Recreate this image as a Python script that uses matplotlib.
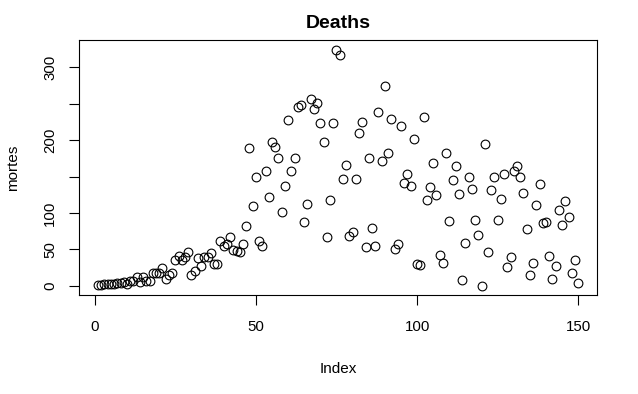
"""
Scatter of daily deaths against index, styled like R's base plot().
"""

import numpy as np
import matplotlib
matplotlib.use("Agg")
import matplotlib.pyplot as plt

# daily deaths (index 1..150)
mortes = [
    1, 1, 2, 2, 3, 3, 4, 4, 5, 3,
    6, 6, 12, 5, 12, 7, 7, 17, 18, 17,
    25, 9, 15, 18, 36, 41, 36, 40, 46, 15,
    20, 38, 27, 39, 39, 45, 30, 30, 61, 55,
    58, 67, 49, 48, 46, 58, 82, 189, 109, 150,
    61, 55, 158, 122, 197, 191, 176, 101, 137, 227,
    158, 175, 245, 248, 88, 112, 256, 243, 251, 223,
    198, 67, 118, 224, 324, 317, 146, 166, 68, 74,
    147, 210, 225, 53, 175, 80, 55, 239, 171, 274,
    183, 229, 50, 58, 220, 141, 154, 137, 202, 30,
    29, 232, 118, 135, 168, 124, 42, 31, 183, 89,
    145, 165, 126, 8, 59, 150, 133, 91, 70, 0,
    195, 47, 131, 150, 91, 119, 153, 26, 40, 157,
    165, 150, 128, 78, 15, 32, 111, 140, 86, 87,
    41, 10, 27, 104, 83, 116, 95, 18, 36, 4,
]
index = np.arange(1, len(mortes) + 1)

x_ticks = [0, 50, 100, 150]
y_ticks = [0, 50, 100, 150, 200, 250, 300]
y_ticklabels = ["0", "50", "100", "", "200", "", "300"]

plt.rcParams["font.family"] = ["Liberation Sans", "DejaVu Sans"]

fig = plt.figure(figsize=(6.38, 3.94), dpi=100)
ax = fig.add_axes([0.1234, 0.2505, 0.8131, 0.6472])

ax.plot(index, mortes, linestyle="none", marker="o", markersize=6.3,
        markerfacecolor="none", markeredgecolor="black", markeredgewidth=0.8)

# R pads the data range by 4% on each side
rx = index.max() - index.min()
ry = max(mortes) - min(mortes)
ax.set_xlim(index.min() - 0.04 * rx, index.max() + 0.04 * rx)
ax.set_ylim(min(mortes) - 0.04 * ry, max(mortes) + 0.04 * ry)

ax.set_xticks(x_ticks)
ax.set_yticks(y_ticks)
ax.set_yticklabels(y_ticklabels)
ax.tick_params(axis="both", direction="out", length=7.5, width=0.8,
               labelsize=10.8, color="black")
ax.tick_params(axis="x", pad=10.5)
ax.tick_params(axis="y", pad=8, labelrotation=90)
for lab in ax.get_yticklabels():
    lab.set_verticalalignment("center")

for sp in ax.spines.values():
    sp.set_linewidth(0.8)

ax.set_xlabel("Index", fontsize=11)
ax.xaxis.set_label_coords(0.5, -0.26)
ax.set_ylabel("mortes", fontsize=11)
ax.yaxis.label.set_verticalalignment("center")
ax.yaxis.set_label_coords(-0.126, 0.5)
ax.set_title("Deaths", fontsize=14, fontweight="bold", pad=9)

fig.savefig("out.png", dpi=100)
